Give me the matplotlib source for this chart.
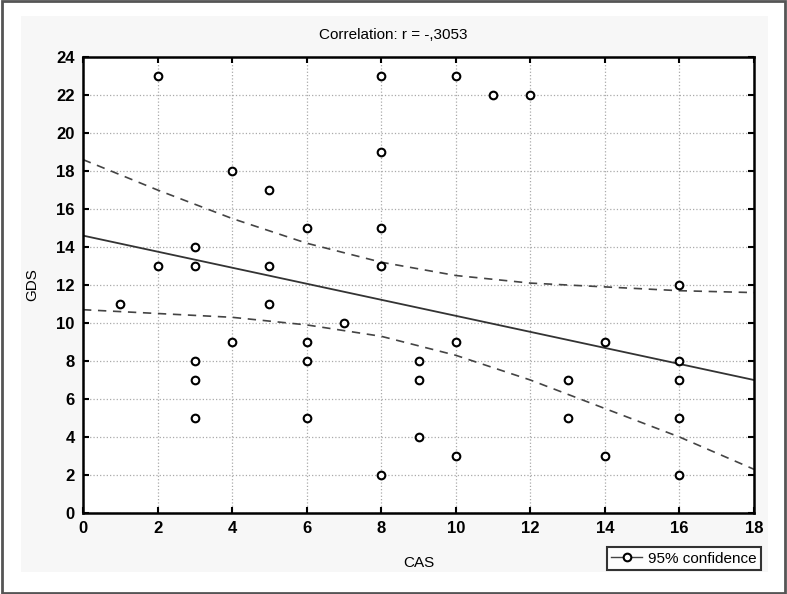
import numpy as np
import matplotlib.pyplot as plt
from matplotlib.lines import Line2D
from matplotlib.patches import Rectangle

plt.rcParams['font.family'] = ['Liberation Sans', 'DejaVu Sans']

# ####################################################################
# data

cas = [1, 2, 2, 3, 3, 3, 3, 3, 4, 4, 5, 5, 5, 6, 6, 6, 6, 7,
       8, 8, 8, 8, 8, 9, 9, 9, 10, 10, 10, 11, 12, 13, 13, 14, 14,
       16, 16, 16, 16, 16]
gds = [11, 23, 13, 14, 13, 8, 7, 5, 18, 9, 17, 13, 11, 15, 9, 8, 5, 10,
       23, 19, 15, 13, 2, 8, 7, 4, 23, 9, 3, 22, 22, 7, 5, 9, 3,
       12, 8, 7, 5, 2]

# regression line (end points)
fit_x = [0, 18]
fit_y = [14.6, 7.0]

# 95% confidence band
band_x = [0, 2, 4, 6, 8, 10, 12, 14, 16, 18]
band_hi = [18.6, 17.0, 15.5, 14.2, 13.2, 12.5, 12.1, 11.9, 11.7, 11.6]
band_lo = [10.7, 10.5, 10.3, 9.9, 9.3, 8.3, 7.0, 5.5, 4.0, 2.3]

# ####################################################################

fig = plt.figure(figsize=(7.87, 5.94), dpi=100)
fig.patch.set_facecolor('white')

# outer frame and light panel
fig.add_artist(Rectangle((0.002, 0.002), 0.996, 0.996, transform=fig.transFigure,
                         facecolor='none', edgecolor='#555555', lw=2))
fig.add_artist(Rectangle((21/787, 1-572/594), (768-21)/787, (572-16)/594,
                         transform=fig.transFigure, facecolor='#f7f7f7',
                         edgecolor='none', zorder=0))

ax = fig.add_axes([83/787, 1-513/594, (754-83)/787, (513-57)/594])
ax.set_facecolor('white')

ax.plot(fit_x, fit_y, color='#333333', lw=1.3, zorder=2)
ax.plot(band_x, band_hi, color='#444444', lw=1.2, ls=(0, (5, 4)), zorder=2)
ax.plot(band_x, band_lo, color='#444444', lw=1.2, ls=(0, (5, 4)), zorder=2)
ax.plot(cas, gds, 'o', markerfacecolor='white', markeredgecolor='black',
        markersize=5.5, markeredgewidth=1.5, zorder=3)

ax.set_xlim(0, 18)
ax.set_ylim(0, 24)
ax.set_xticks(np.arange(0, 19, 2))
ax.set_yticks(np.arange(0, 25, 2))
ax.grid(True, ls=':', color='#aaaaaa', lw=0.9)
ax.tick_params(direction='in', length=4, width=1.5, top=True, right=True,
               labelsize=12, pad=6)
for lab in ax.get_xticklabels() + ax.get_yticklabels():
    lab.set_fontweight('bold')
for s in ax.spines.values():
    s.set_linewidth(1.8)

ax.set_xlabel("CAS", fontsize=11, labelpad=14)
ax.set_ylabel("GDS", fontsize=11, labelpad=12)
fig.text(0.5, 1-35/594, "Correlation: r = -,3053", ha='center', va='center',
         fontsize=11)

handle = Line2D([], [], color='#444444', lw=1, marker='o', markersize=5.5,
                markerfacecolor='white', markeredgecolor='black', markeredgewidth=1.5)
leg = fig.legend([handle], ["95% confidence"], loc='lower right',
                 bbox_to_anchor=(769/787, 1-578/594), fontsize=11,
                 frameon=True, fancybox=False, edgecolor='black',
                 handlelength=2.0, borderpad=0.3, handletextpad=0.4)
leg.get_frame().set_linewidth(1.5)

plt.savefig("out.png", dpi=100)
